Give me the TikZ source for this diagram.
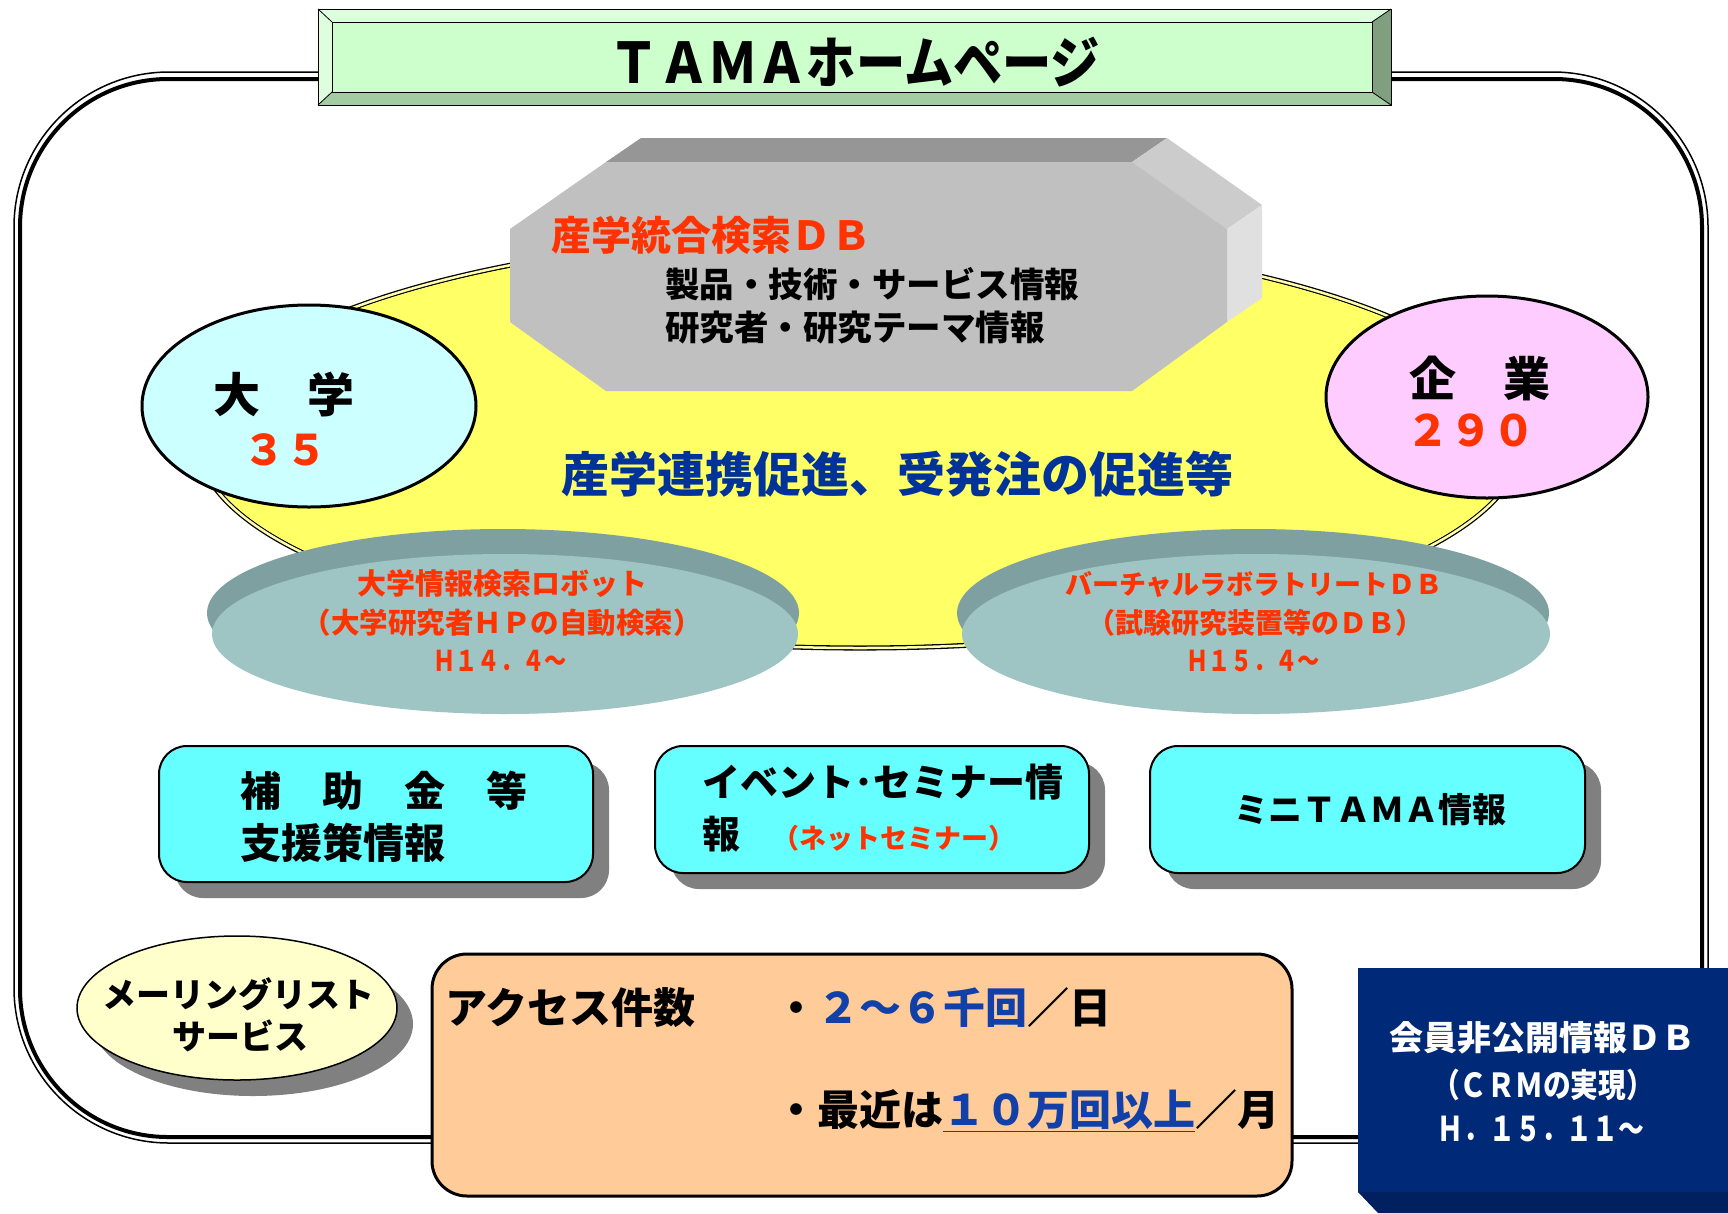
\documentclass[tikz,border=0pt]{standalone}
\usepackage{fontspec}
\usepackage{graphicx}
\newfontfamily\jp{Noto Sans CJK JP}
\definecolor{redtxt}{RGB}{255,51,0}
\definecolor{bluetxt}{RGB}{0,51,153}
\definecolor{numblue}{RGB}{16,64,168}
\definecolor{titleface}{HTML}{CCFFCC}
\definecolor{titlelight}{HTML}{DDFFDD}
\definecolor{titledark}{HTML}{A3CCA3}
\definecolor{titledarker}{HTML}{7F9F7F}
\definecolor{yellowfill}{HTML}{FFFF66}
\definecolor{yellowgap}{HTML}{FFFFB0}
\definecolor{grayfront}{HTML}{C0C0C0}
\definecolor{graytop}{HTML}{969696}
\definecolor{grayside}{HTML}{CCCCCC}
\definecolor{grayright}{HTML}{E0E0E0}
\definecolor{univfill}{HTML}{CCFFFF}
\definecolor{corpfill}{HTML}{FFCCFF}
\definecolor{tealface}{HTML}{9EC4C4}
\definecolor{tealband}{HTML}{7EA0A0}
\definecolor{cyanbox}{HTML}{66FFFF}
\definecolor{shadowgray}{HTML}{808080}
\definecolor{mailfill}{HTML}{FFFFCC}
\definecolor{accessfill}{HTML}{FFCC99}
\definecolor{navyface}{RGB}{0,42,120}
\definecolor{navydark}{RGB}{0,32,96}
\newcommand\myfs[1]{\fontsize{#1}{#1}\selectfont}
\tikzset{
  txt/.style={inner sep=0pt, font=\jp\bfseries},
  cyanrect/.style={draw=black, line width=2pt, fill=cyanbox, rounded corners=28pt},
  shadowrect/.style={fill=shadowgray, rounded corners=28pt},
}
\begin{document}
\begin{tikzpicture}[x=1pt,y=-1pt]
\useasboundingbox (0,0) rectangle (1728,1213);
\fill[white] (0,0) rectangle (1728,1213);

% outer frame (double line)
\draw[line width=1.5pt, rounded corners=155pt] (14,72) rectangle (1708,1143);
\draw[line width=4pt, rounded corners=148pt] (20,79) rectangle (1702,1137);

% title box with bevel
\fill[titlelight] (318,9) -- (1391,9) -- (1377,22) -- (332,22) -- cycle;
\fill[titlelight] (318,9) -- (332,22) -- (332,92) -- (318,105) -- cycle;
\fill[titledark] (318,105) -- (332,92) -- (1372,92) -- (1391,105) -- cycle;
\fill[titledarker] (1391,9) -- (1391,105) -- (1372,92) -- (1372,22) -- cycle;
\fill[titleface] (332,22) rectangle (1372,92);
\draw[line width=1pt] (318,9) rectangle (1391,105);
\draw[line width=0.8pt] (332,22) rectangle (1372,92);
\draw[line width=0.8pt] (318,9) -- (332,22) (1391,9) -- (1372,22) (318,105) -- (332,92) (1391,105) -- (1372,92);
\node[txt] (title) at (855,62) {\scalebox{0.88}[1]{\myfs{56}ＴＡＭＡホームページ}};

% yellow ellipse
\draw[fill=yellowfill, draw=black, line width=1.3pt, double=yellowgap, double distance=2.5pt]
  (860,441) ellipse [x radius=662pt, y radius=207pt];
\fill[yellowfill] (860,441) ellipse [x radius=659pt, y radius=204pt];

% gray 3D octagon
\fill[graytop] (641,138) -- (1167,138) -- (1132,162) -- (606,162) -- cycle;
\fill[grayside] (1132,162) -- (1167,138) -- (1262,205) -- (1227,229) -- cycle;
\fill[grayright] (1227,229) -- (1262,205) -- (1262,298) -- (1227,322) -- cycle;
\fill[grayfront] (606,162) -- (1132,162) -- (1227,229) -- (1227,322) -- (1132,391) -- (606,391) -- (510,322) -- (510,229) -- cycle;
\node[txt, anchor=west, text=redtxt] (db1) at (551,235) {\myfs{40}産学統合検索ＤＢ};
\node[txt, anchor=west] (db2) at (665,284) {\myfs{34.5}製品・技術・サービス情報};
\node[txt, anchor=west] (db3) at (665,328) {\myfs{34.5}研究者・研究テーマ情報};

% university / company ellipses
\draw[fill=univfill, line width=3pt] (309,406) ellipse [x radius=167pt, y radius=101pt];
\node[txt] (univ) at (284,395) {\myfs{47}大　学};
\node[txt, text=redtxt] (univn) at (285,450) {\myfs{42}３５};
\draw[fill=corpfill, line width=3pt] (1487,397) ellipse [x radius=161pt, y radius=101pt];
\node[txt] (corp) at (1480,378) {\myfs{47}企　業};
\node[txt, text=redtxt] (corpn) at (1471,430) {\myfs{43}２９０};

% center text
\node[txt, text=bluetxt] (center) at (897,474) {\myfs{48}産学連携促進、受発注の促進等};

% teal disks
\fill[tealband] (503,613) ellipse [x radius=296pt, y radius=84pt];
\fill[tealface] (505,634) ellipse [x radius=293pt, y radius=80pt];
\node[txt, text=redtxt] (l1) at (502,584) {\myfs{29}大学情報検索ロボット};
\node[txt, text=redtxt] (l2) at (502,623) {\myfs{28.5}（大学研究者ＨＰの自動検索）};
\node[txt, text=redtxt] (l3) at (500,661) {\scalebox{0.78}[1]{\myfs{28.5}Ｈ１４．４～}};

\fill[tealband] (1253,613) ellipse [x radius=296pt, y radius=84pt];
\fill[tealface] (1256,634) ellipse [x radius=294pt, y radius=80pt];
\node[txt, text=redtxt] (r1) at (1254,584) {\myfs{27}バーチャルラボラトリートＤＢ};
\node[txt, text=redtxt] (r2) at (1255,623) {\myfs{28}（試験研究装置等のＤＢ）};
\node[txt, text=redtxt] (r3) at (1253,661) {\scalebox{0.78}[1]{\myfs{28.5}Ｈ１５．４～}};

% cyan boxes
\fill[shadowrect] (175,762) rectangle (609,898);
\draw[cyanrect] (159,746) rectangle (593,882);
\node[txt, anchor=west] (b1a) at (240,791) {\myfs{41}補　助　金　等};
\node[txt, anchor=west] (b1b) at (240,843) {\myfs{41}支援策情報};

\fill[shadowrect] (671,762) rectangle (1105,889);
\draw[cyanrect] (655,746) rectangle (1089,873);
\node[txt, anchor=west] (b2a) at (702,782) {\myfs{38}イベント･セミナー情};
\node[txt, anchor=west] (b2b) at (702,834) {\myfs{38}報};
\node[txt, anchor=west, text=redtxt] (b2c) at (772,838) {\myfs{27}（ネットセミナー）};

\fill[shadowrect] (1166,762) rectangle (1601,889);
\draw[cyanrect] (1150,746) rectangle (1585,873);
\node[txt] (b3) at (1370,810) {\myfs{34}ミニＴＡＭＡ情報};

% mailing list
\fill[shadowgray] (253,1024) ellipse [x radius=160pt, y radius=72pt];
\draw[fill=mailfill, line width=1.5pt] (237,1008) ellipse [x radius=160pt, y radius=72pt];
\node[txt] (m1) at (238,994) {\myfs{34}メーリングリスト};
\node[txt] (m2) at (240,1036) {\myfs{34}サービス};

% access box
\draw[fill=accessfill, line width=3pt, rounded corners=35pt] (432,954) rectangle (1292,1196);
\node[txt, anchor=west] (a1) at (445,1008) {\myfs{42}アクセス件数};
\node[txt, anchor=west] (a2) at (775,1008) {\myfs{42}・\textcolor{numblue}{２～６千回}／日};
\node[txt, anchor=west] (a3) at (775,1111) {\myfs{42}・最近は\textcolor{numblue}{\underline{１０万回以上}}／月};

% navy box
\fill[navyface] (1358,968) rectangle (1728,1192);
\fill[navydark] (1358,1192) -- (1728,1192) -- (1728,1213) -- (1378,1213) -- cycle;
\node[txt, text=white] (n1) at (1542,1038) {\myfs{34}会員非公開情報ＤＢ};
\node[txt, text=white] (n2) at (1543,1085) {\scalebox{0.84}[1]{\myfs{33}（ＣＲＭの実現）}};
\node[txt, text=white] (n3) at (1541,1129) {\scalebox{0.76}[1]{\myfs{34}Ｈ．１５．１１～}};
\end{tikzpicture}
\end{document}
